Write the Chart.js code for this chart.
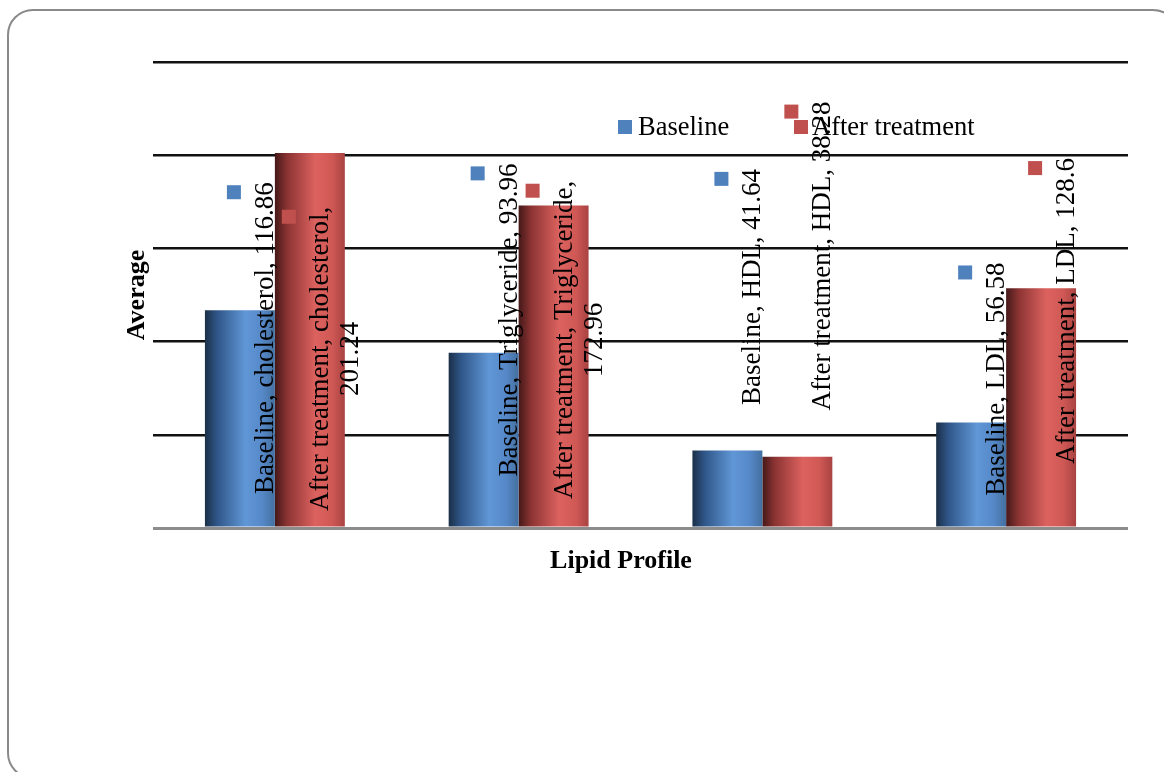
<!DOCTYPE html>
<html>
<head>
<meta charset="utf-8">
<script src="https://cdn.jsdelivr.net/npm/chart.js@4"></script>
<style>
  html, body { margin: 0; padding: 0; background: #ffffff; }
  #wrap { position: relative; width: 1164px; height: 772px; }
</style>
</head>
<body>
<div id="wrap"><canvas id="c" width="1164" height="772"></canvas></div>
<script>
// ---- data ----
const categories = ['cholesterol', 'Triglyceride', 'HDL', 'LDL'];
const seriesNames = ['Baseline', 'After treatment'];
const baselineValues = [116.86, 93.96, 41.64, 56.58];
const afterValues = [201.24, 172.96, 38.28, 128.6];
const yTicks = [0, 50, 100, 150, 200, 250];
// where each data label is centred, in value-axis units (manual label layout of the original)
const baselineLabelAt = [101.9, 111.6, 129.3, 79.9];
const afterLabelAt = [90.7, 100.9, 145.9, 116.4];

const xTitle = 'Lipid Profile';
const yTitle = 'Average';

const seriesColors = ['#4f81bd', '#c0504d'];
const gradStops = [
  [[0, '#1b2f48'], [0.18, '#30578a'], [0.58, '#6097d6'], [0.82, '#5688c8'], [1, '#44709f']],
  [[0, '#451818'], [0.18, '#8c3433'], [0.58, '#dc625f'], [0.82, '#cf5855'], [1, '#a84341']]
];
const SERIF = '"Liberation Serif", "Times New Roman", serif';

const framePlugin = {
  id: 'frame',
  beforeDraw(chart) {
    const ctx = chart.ctx;
    ctx.save();
    ctx.fillStyle = '#ffffff';
    ctx.fillRect(0, 0, chart.width, chart.height);
    ctx.strokeStyle = '#8a8a8a';
    ctx.lineWidth = 2;
    const x = 8, y = 10, w = 1170, h = 768, r = 25;
    ctx.beginPath();
    ctx.moveTo(x + r, y);
    ctx.lineTo(x + w - r, y);
    ctx.arcTo(x + w, y, x + w, y + r, r);
    ctx.lineTo(x + w, y + h - r);
    ctx.arcTo(x + w, y + h, x + w - r, y + h, r);
    ctx.lineTo(x + r, y + h);
    ctx.arcTo(x, y + h, x, y + h - r, r);
    ctx.lineTo(x, y + r);
    ctx.arcTo(x, y, x + r, y, r);
    ctx.closePath();
    ctx.stroke();
    ctx.restore();
  }
};

const gradientPlugin = {
  id: 'barGradients',
  beforeDatasetsDraw(chart) {
    const ctx = chart.ctx;
    chart.data.datasets.forEach((ds, di) => {
      const meta = chart.getDatasetMeta(di);
      meta.data.forEach(el => {
        const g = ctx.createLinearGradient(el.x - el.width / 2, 0, el.x + el.width / 2, 0);
        gradStops[di].forEach(s => g.addColorStop(s[0], s[1]));
        el.options = Object.assign(Object.create(Object.getPrototypeOf(el.options)), el.options, { backgroundColor: g });
      });
    });
  }
};

function wrapWords(ctx, text, maxW) {
  const words = text.split(' ');
  const lines = [];
  let cur = '';
  words.forEach(w => {
    const t = cur ? cur + ' ' + w : w;
    if (ctx.measureText(t).width > maxW && cur) { lines.push(cur); cur = w; }
    else cur = t;
  });
  if (cur) lines.push(cur);
  return lines;
}

const annotationPlugin = {
  id: 'annotations',
  afterDatasetsDraw(chart) {
    const ctx = chart.ctx;
    const ys = chart.scales.y;
    const area = chart.chartArea;
    const labelAt = [baselineLabelAt, afterLabelAt];
    ctx.save();
    ctx.fillStyle = '#000';
    ctx.font = '27px ' + SERIF;
    // data labels (rotated), with legend keys
    chart.data.datasets.forEach((ds, di) => {
      const meta = chart.getDatasetMeta(di);
      meta.data.forEach((el, i) => {
        const text = seriesNames[di] + ', ' + categories[i] + ', ' + ds.data[i];
        const lines = wrapWords(ctx, text, 338);
        const lh = 30;
        const cx = el.x + 26;
        const cy = ys.getPixelForValue(labelAt[di][i]);
        lines.forEach((ln, k) => {
          const lx = cx + (k - (lines.length - 1) / 2) * lh;
          ctx.save();
          ctx.translate(lx, cy);
          ctx.rotate(-Math.PI / 2);
          ctx.textAlign = 'center';
          ctx.textBaseline = 'middle';
          ctx.fillStyle = '#000';
          ctx.fillText(ln, 0, 0);
          ctx.restore();
        });
        const firstX = cx - (lines.length - 1) / 2 * lh;
        const topY = cy - ctx.measureText(lines[0]).width / 2;
        ctx.fillStyle = seriesColors[di];
        ctx.fillRect(firstX - 32 - 7, topY + 10 - 7, 14, 14);
      });
    });
    // legend
    ctx.font = '26.5px ' + SERIF;
    const legendItems = [[618, 638], [794, 812]];
    seriesNames.forEach((n, di) => {
      ctx.fillStyle = seriesColors[di];
      ctx.fillRect(legendItems[di][0], 120, 14, 14);
      ctx.fillStyle = '#000';
      ctx.textAlign = 'left';
      ctx.textBaseline = 'alphabetic';
      ctx.fillText(n, legendItems[di][1], 135);
    });
    // axis titles
    ctx.font = 'bold 26px ' + SERIF;
    ctx.fillStyle = '#000';
    ctx.textAlign = 'center';
    ctx.textBaseline = 'middle';
    ctx.fillText(xTitle, 621, area.bottom + 33);
    ctx.save();
    ctx.translate(area.left - 16, 295);
    ctx.rotate(-Math.PI / 2);
    ctx.fillText(yTitle, 0, 0);
    ctx.restore();
    ctx.restore();
  }
};

new Chart(document.getElementById('c'), {
  type: 'bar',
  data: {
    labels: categories,
    datasets: [
      { label: seriesNames[0], data: baselineValues, backgroundColor: c => seriesColors[c.datasetIndex], borderWidth: 0 },
      { label: seriesNames[1], data: afterValues, backgroundColor: c => seriesColors[c.datasetIndex], borderWidth: 0 }
    ]
  },
  options: {
    responsive: false,
    animation: false,
    devicePixelRatio: 1,
    layout: { padding: { left: 153, right: 36, top: 62, bottom: 244 } },
    datasets: { bar: { barPercentage: 1, categoryPercentage: 0.574 } },
    plugins: { legend: { display: false }, tooltip: { enabled: false }, title: { display: false } },
    scales: {
      x: {
        grid: { display: false, drawTicks: false },
        border: { display: false },
        ticks: { display: false },
        afterFit: s => { s.height = 0; }
      },
      y: {
        min: yTicks[0],
        max: yTicks[yTicks.length - 1],
        afterBuildTicks: s => { s.ticks = yTicks.map(v => ({ value: v })); },
        grid: {
          drawTicks: false,
          color: c => (c.tick && c.tick.value === 0) ? '#8c8c8c' : '#111111',
          lineWidth: c => (c.tick && c.tick.value === 0) ? 3 : 2.5
        },
        border: { display: false },
        ticks: { display: false },
        afterFit: s => { s.width = 0; }
      }
    }
  },
  plugins: [framePlugin, gradientPlugin, annotationPlugin]
});
</script>
</body>
</html>
